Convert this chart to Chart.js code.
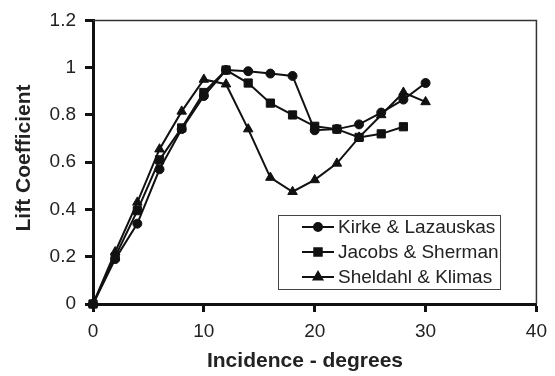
<!DOCTYPE html>
<html>
<head>
<meta charset="utf-8">
<script src="https://cdn.jsdelivr.net/npm/chart.js@4"></script>
<style>
  html, body { margin: 0; padding: 0; background: #fff; }
  #wrap { width: 555px; height: 376px; }
</style>
</head>
<body>
<div id="wrap"><canvas id="liftChart" width="555" height="376"></canvas></div>
<script>
// angle of incidence (degrees)
var incidence = [0, 2, 4, 6, 8, 10, 12, 14, 16, 18, 20, 22, 24, 26, 28, 30];

// lift coefficient per source
var kirke = [0, 0.19, 0.34, 0.57, 0.74, 0.88, 0.99, 0.985, 0.975, 0.965, 0.735, 0.74, 0.76, 0.81, 0.865, 0.935];
var jacobs = [0, 0.20, 0.395, 0.61, 0.745, 0.895, 0.99, 0.935, 0.85, 0.80, 0.752, 0.74, 0.705, 0.72, 0.75];
var sheldahl = [0, 0.22, 0.43, 0.655, 0.815, 0.95, 0.93, 0.74, 0.535, 0.475, 0.525, 0.595, 0.705, 0.80, 0.895, 0.855];

var seriesNames = ['Kirke & Lazauskas', 'Jacobs & Sherman', 'Sheldahl & Klimas'];
var xTicks = [0, 10, 20, 30, 40];
var yTicks = [0, 0.2, 0.4, 0.6, 0.8, 1, 1.2];

var ink = '#111';

function pts(vals) {
    return vals.map(function (v, i) { return { x: incidence[i], y: v }; });
}

function serie(name, vals, style, r) {
    return {
        label: name,
        data: pts(vals),
        showLine: true,
        borderColor: ink,
        backgroundColor: ink,
        borderWidth: 2,
        pointStyle: style,
        pointRadius: r,
        pointBorderWidth: 1,
        pointBackgroundColor: ink,
        pointBorderColor: ink,
        clip: false
    };
}

// thin frame on the top and right of the plot area
var frame = {
    id: 'frame',
    beforeDatasetsDraw: function (chart) {
        var a = chart.chartArea, ctx = chart.ctx;
        ctx.save();
        ctx.strokeStyle = '#333';
        ctx.lineWidth = 1.5;
        ctx.beginPath();
        ctx.moveTo(a.left, a.top);
        ctx.lineTo(a.right, a.top);
        ctx.lineTo(a.right, a.bottom);
        ctx.stroke();
        ctx.restore();
    }
};

// boxed legend inside the plot + axis titles
var extras = {
    id: 'extras',
    afterDraw: function (chart) {
        var ctx = chart.ctx;
        ctx.save();
        var bx = 278.5, by = 215.5, bw = 222, bh = 74;
        ctx.fillStyle = '#fff';
        ctx.fillRect(bx, by, bw, bh);
        ctx.strokeStyle = '#444';
        ctx.lineWidth = 1;
        ctx.strokeRect(bx, by, bw, bh);

        ctx.font = '19px "Liberation Sans", Arial, sans-serif';
        ctx.textBaseline = 'middle';
        ctx.textAlign = 'left';
        chart.data.datasets.forEach(function (ds, i) {
            var y = 227 + i * 25;
            ctx.strokeStyle = ink;
            ctx.lineWidth = 2;
            ctx.beginPath();
            ctx.moveTo(302, y);
            ctx.lineTo(334, y);
            ctx.stroke();
            Chart.helpers.drawPoint(ctx, {
                pointStyle: ds.pointStyle,
                radius: ds.pointRadius - 0.5,
                borderWidth: 1
            }, 318, y);
            ctx.fillStyle = ink;
            ctx.fill();
            ctx.fillStyle = '#222';
            ctx.fillText(ds.label, 338, y + 1);
        });

        ctx.fillStyle = '#222';
        ctx.font = 'bold 21px "Liberation Sans", Arial, sans-serif';
        ctx.textAlign = 'center';
        ctx.fillText('Incidence - degrees', 305, 361);
        ctx.translate(24, 158);
        ctx.rotate(-Math.PI / 2);
        ctx.fillText('Lift Coefficient', 0, 0);
        ctx.restore();
    }
};

var tickFont = { family: '"Liberation Sans", Arial, sans-serif', size: 19 };

var ctx = document.getElementById('liftChart');
var chart = new Chart(ctx, {
    type: 'scatter',
    data: {
        datasets: [
            serie(seriesNames[0], kirke, 'circle', 4.5),
            serie(seriesNames[1], jacobs, 'rect', 5.8),
            serie(seriesNames[2], sheldahl, 'triangle', 5.5)
        ]
    },
    options: {
        responsive: false,
        animation: false,
        layout: { padding: { top: 19, right: 14, left: 0, bottom: 0 } },
        plugins: {
            legend: { display: false },
            tooltip: { enabled: false }
        },
        scales: {
            x: {
                type: 'linear',
                min: 0,
                max: 40,
                afterFit: function (s) { s.height = 72; },
                afterBuildTicks: function (s) { s.ticks = xTicks.map(function (v) { return { value: v }; }); },
                border: { display: true, color: ink, width: 3 },
                grid: { drawOnChartArea: false, drawTicks: true, tickLength: 8, tickWidth: 3, tickColor: ink },
                ticks: {
                    color: '#222', padding: 8, font: tickFont,
                    callback: function (v) { return String(v); }
                }
            },
            y: {
                min: 0,
                max: 1.2,
                afterFit: function (s) { s.width = 93; },
                afterBuildTicks: function (s) { s.ticks = yTicks.map(function (v) { return { value: v }; }); },
                border: { display: true, color: ink, width: 3 },
                grid: { drawOnChartArea: false, drawTicks: true, tickLength: 8, tickWidth: 3, tickColor: ink },
                ticks: {
                    color: '#222', padding: 9, font: tickFont,
                    callback: function (v) { return String(Math.round(v * 10) / 10); }
                }
            }
        }
    },
    plugins: [frame, extras]
});
</script>
</body>
</html>
